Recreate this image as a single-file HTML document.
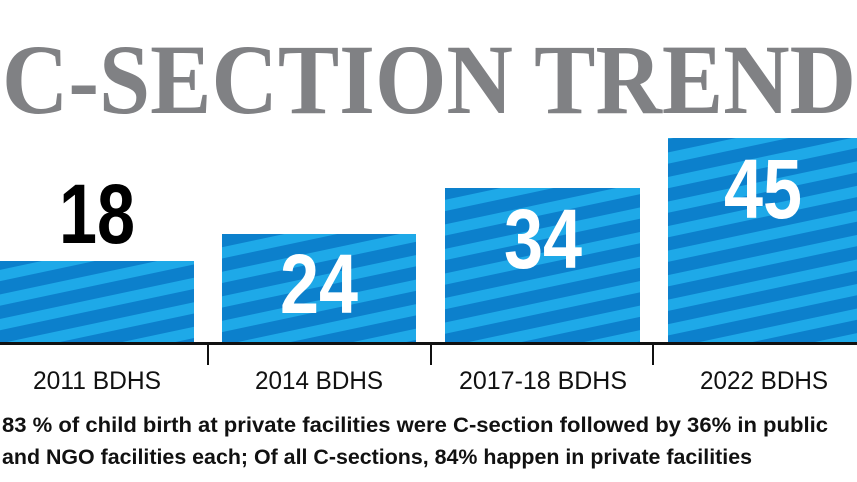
<!DOCTYPE html>
<html><head><meta charset="utf-8"><style>
html,body{margin:0;padding:0;background:#fff;}
svg{display:block}
</style></head><body>
<svg width="857" height="482" viewBox="0 0 857 482" xmlns="http://www.w3.org/2000/svg">
<defs>
<pattern id="st" patternUnits="userSpaceOnUse" width="40" height="24" patternTransform="rotate(-12)">
<rect width="40" height="24" fill="#0c80cc"/>
<rect y="0" width="40" height="11" fill="#1ea9e8"/>
</pattern>
</defs>
<text x="2" y="113" font-family="Liberation Serif, serif" font-weight="bold" font-size="100" fill="#808184" textLength="854" lengthAdjust="spacingAndGlyphs">C-SECTION TREND</text>
<rect x="0" y="261" width="194" height="82" fill="url(#st)"/>
<rect x="222" y="234" width="194" height="109" fill="url(#st)"/>
<rect x="445" y="188" width="195" height="155" fill="url(#st)"/>
<rect x="668" y="138" width="189" height="205" fill="url(#st)"/>
<g font-family="Liberation Sans, sans-serif" font-weight="bold" font-size="84" text-anchor="middle">
<text x="97" y="243" fill="#000" textLength="76" lengthAdjust="spacingAndGlyphs">18</text>
<text x="319" y="313" fill="#fff" textLength="78" lengthAdjust="spacingAndGlyphs">24</text>
<text x="543" y="268" fill="#fff" textLength="78" lengthAdjust="spacingAndGlyphs">34</text>
<text x="763" y="218" fill="#fff" textLength="78" lengthAdjust="spacingAndGlyphs">45</text>
</g>
<rect x="0" y="342" width="857" height="3" fill="#111"/>
<rect x="207" y="344" width="2" height="21" fill="#111"/>
<rect x="430" y="344" width="2" height="21" fill="#111"/>
<rect x="652" y="344" width="2" height="21" fill="#111"/>
<g font-family="Liberation Sans, sans-serif" font-size="25" fill="#111" text-anchor="middle">
<text x="97" y="389" textLength="128" lengthAdjust="spacingAndGlyphs">2011 BDHS</text>
<text x="319" y="389" textLength="128" lengthAdjust="spacingAndGlyphs">2014 BDHS</text>
<text x="543" y="389" textLength="168" lengthAdjust="spacingAndGlyphs">2017-18 BDHS</text>
<text x="764" y="389" textLength="128" lengthAdjust="spacingAndGlyphs">2022 BDHS</text>
</g>
<g font-family="Liberation Sans, sans-serif" font-weight="bold" font-size="21" fill="#111">
<text x="2" y="432" textLength="826" lengthAdjust="spacingAndGlyphs">83 % of child birth at private facilities were C-section followed by 36% in public</text>
<text x="2" y="464" textLength="750" lengthAdjust="spacingAndGlyphs">and NGO facilities each; Of all C-sections, 84% happen in private facilities</text>
</g>
</svg>
</body></html>
